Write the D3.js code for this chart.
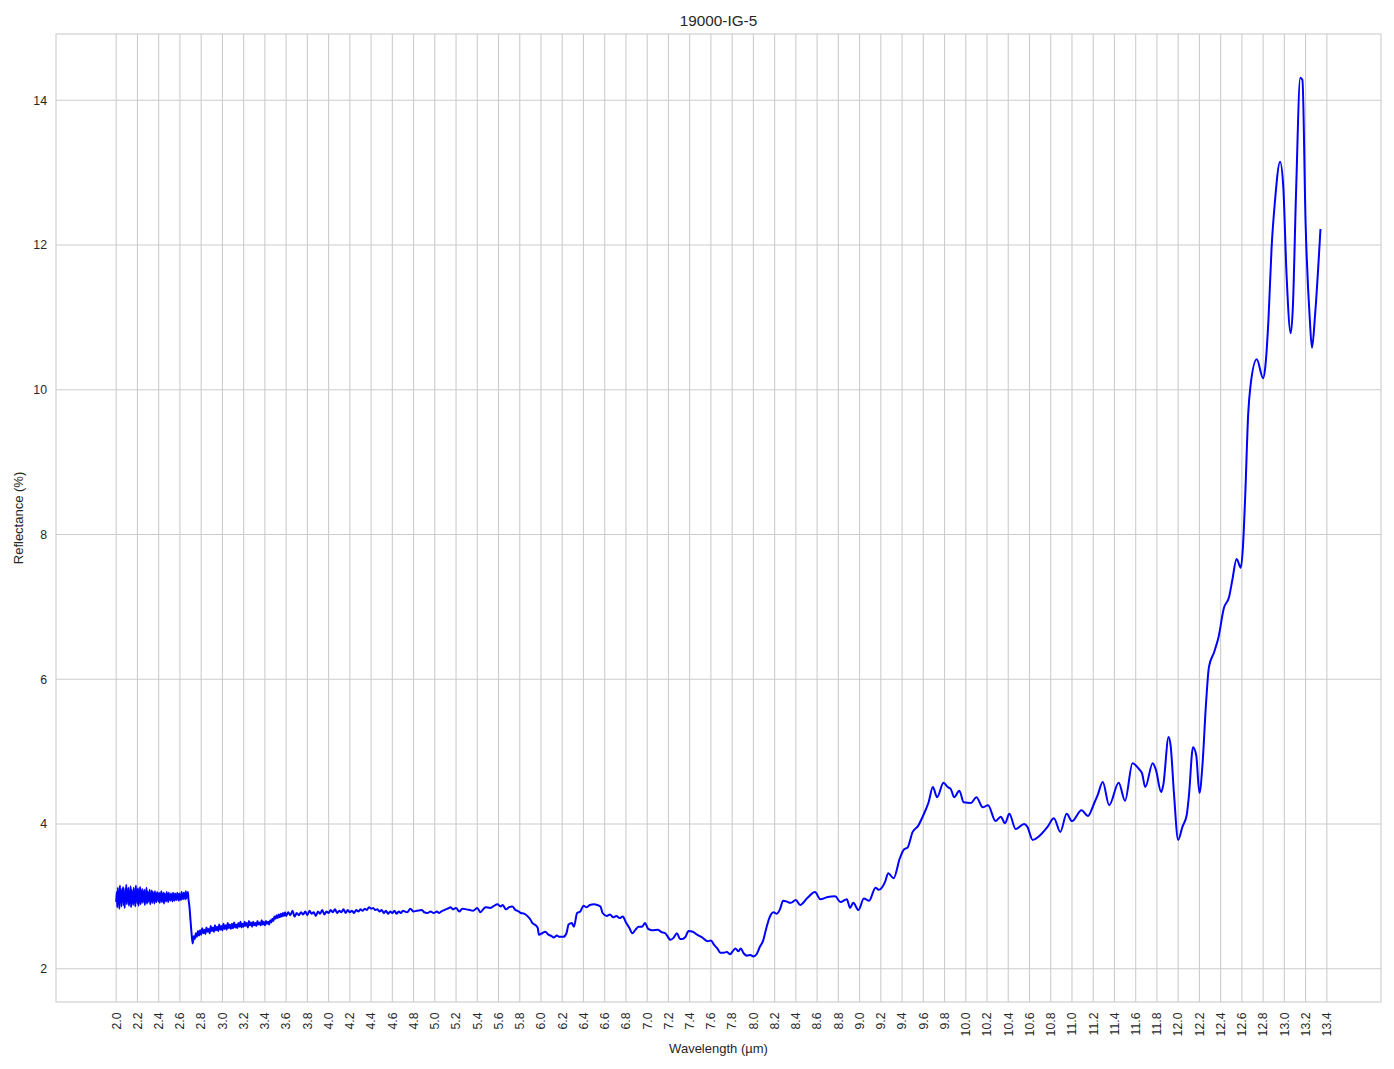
<!DOCTYPE html>
<html>
<head>
<meta charset="utf-8">
<script src="https://cdn.jsdelivr.net/npm/d3@7/dist/d3.min.js"></script>
<style>
  html, body { margin: 0; padding: 0; background: #fff; }
  svg { display: block; font-family: "Liberation Sans", Arial, sans-serif; }
</style>
</head>
<body>
<svg id="chart" width="1394" height="1069"></svg>
<script>
// ---------- DATA ----------
const title = "19000-IG-5";
const xLabel = "Wavelength (µm)";
const yLabel = "Reflectance (%)";

const xTickLabels = ["2.0","2.2","2.4","2.6","2.8","3.0","3.2","3.4","3.6","3.8",
  "4.0","4.2","4.4","4.6","4.8","5.0","5.2","5.4","5.6","5.8",
  "6.0","6.2","6.4","6.6","6.8","7.0","7.2","7.4","7.6","7.8",
  "8.0","8.2","8.4","8.6","8.8","9.0","9.2","9.4","9.6","9.8",
  "10.0","10.2","10.4","10.6","10.8","11.0","11.2","11.4","11.6","11.8",
  "12.0","12.2","12.4","12.6","12.8","13.0","13.2","13.4"];
const yTickValues = [2, 4, 6, 8, 10, 12, 14];

// Segment 1: noisy region, sampled every 0.005 µm from 2.000 to 2.680
const seg1Start = 2.00, seg1Step = 0.005;
const seg1Refl = [
  2.92, 3.06, 2.85, 3.12, 2.90, 3.03, 2.83, 3.15, 2.94, 3.08,
  2.86, 3.10, 2.97, 3.13, 2.88, 3.04, 2.84, 3.11, 2.93, 3.16,
  2.89, 3.07, 2.95, 3.12, 2.87, 3.05, 2.91, 3.14, 2.85, 3.09,
  2.96, 3.03, 2.88, 3.12, 2.92, 3.06, 2.86, 3.15, 2.94, 3.08,
  2.90, 3.11, 2.87, 3.05, 2.97, 3.13, 2.89, 3.07, 2.93, 3.10,
  2.91, 3.06, 2.95, 3.09, 2.88, 3.04, 2.94, 3.12, 2.90, 3.07,
  2.92, 3.05, 2.96, 3.09, 2.89, 3.03, 2.93, 3.08, 2.91, 3.06,
  2.95, 3.04, 2.90, 3.07, 2.94, 3.02, 2.92, 3.06, 2.96, 3.03,
  2.93, 3.05, 2.91, 3.04, 2.95, 3.07, 2.92, 3.03, 2.94, 3.05,
  2.90, 3.04, 2.96, 3.02, 2.93, 3.06, 2.95, 3.03, 2.92, 3.05,
  2.96, 3.02, 2.94, 3.04, 2.97, 3.01, 2.93, 3.05, 2.95, 3.03,
  2.94, 3.04, 2.96, 3.02, 2.95, 3.05, 2.97, 3.03, 2.94, 3.04,
  2.96, 3.02, 2.95, 3.06, 2.97, 3.03, 2.96, 3.05, 2.98, 3.04,
  2.96, 3.07, 2.97, 3.03, 2.99, 3.06, 2.97
];

// Segment 2: the drop and the noisy start of the plateau, every 0.01 µm from 2.69 to 3.59
const seg2Start = 2.69, seg2Step = 0.01;
const seg2Refl = [
  2.85, 2.66, 2.48, 2.35, 2.45, 2.41, 2.49, 2.44, 2.52, 2.46,
  2.53, 2.47, 2.56, 2.49, 2.54, 2.48, 2.57, 2.51, 2.55, 2.49,
  2.59, 2.52, 2.57, 2.51, 2.60, 2.53, 2.58, 2.52, 2.61, 2.54,
  2.59, 2.53, 2.62, 2.55, 2.60, 2.54, 2.63, 2.56, 2.61, 2.55,
  2.62, 2.56, 2.64, 2.57, 2.61, 2.56, 2.63, 2.58, 2.65, 2.57,
  2.62, 2.58, 2.65, 2.59, 2.63, 2.57, 2.66, 2.60, 2.64, 2.58,
  2.65, 2.60, 2.63, 2.59, 2.66, 2.61, 2.64, 2.60, 2.67, 2.61,
  2.65, 2.60, 2.66, 2.62, 2.65, 2.61, 2.67, 2.64, 2.69, 2.66,
  2.72, 2.69, 2.74, 2.70, 2.75, 2.71, 2.76, 2.72, 2.77, 2.73,
  2.78
];

// Segment 2b: plateau, every 0.02 µm from 3.60 to 4.70
const seg2bStart = 3.60, seg2bStep = 0.02;
const seg2bRefl = [
  2.73, 2.78, 2.74, 2.80, 2.72,
  2.77, 2.74, 2.78, 2.75, 2.79, 2.74, 2.80, 2.76, 2.78, 2.73,
  2.79, 2.76, 2.81, 2.75, 2.79, 2.77, 2.81, 2.78, 2.82, 2.77,
  2.80, 2.78, 2.82, 2.77, 2.81, 2.78, 2.80, 2.77, 2.81, 2.79,
  2.82, 2.80, 2.83, 2.81, 2.85, 2.83, 2.84, 2.81, 2.82, 2.79,
  2.81, 2.77, 2.80, 2.76, 2.79, 2.77, 2.80, 2.76, 2.79, 2.77,
  2.80
];

// Segment 3: smoother part, irregular samples
const seg3Wave = [
  4.74, 4.77, 4.80, 4.83, 4.88, 4.90, 4.93, 4.96, 4.99, 5.02,
  5.04, 5.07, 5.09, 5.12, 5.15, 5.17, 5.20, 5.23, 5.26, 5.30,
  5.33, 5.36, 5.40, 5.43, 5.46, 5.48, 5.52, 5.55, 5.59, 5.62,
  5.64, 5.67, 5.70, 5.73, 5.76, 5.78, 5.81, 5.84, 5.87, 5.90,
  5.92, 5.95, 5.97, 5.98, 6.01, 6.04, 6.07, 6.10, 6.12, 6.15,
  6.17, 6.21, 6.24, 6.26, 6.29, 6.31, 6.34, 6.37, 6.40, 6.43,
  6.46, 6.50, 6.53, 6.56, 6.58, 6.62, 6.65, 6.68, 6.71, 6.74,
  6.77, 6.80, 6.83, 6.86, 6.89, 6.92, 6.95, 6.98, 7.01, 7.05,
  7.10, 7.13, 7.17, 7.22, 7.25, 7.28, 7.31, 7.33, 7.36, 7.39,
  7.43, 7.47, 7.52, 7.57, 7.60, 7.63, 7.66, 7.69, 7.72, 7.75,
  7.78, 7.81, 7.83, 7.86, 7.88, 7.91, 7.94, 7.97, 8.00, 8.03,
  8.06, 8.09, 8.12, 8.15, 8.19, 8.22, 8.25, 8.28, 8.31, 8.35,
  8.40, 8.44, 8.51, 8.58, 8.63, 8.70, 8.77, 8.82, 8.88, 8.91,
  8.94, 8.99, 9.04, 9.09, 9.15, 9.18, 9.24, 9.27, 9.32, 9.38,
  9.42, 9.45, 9.50, 9.55, 9.60, 9.65, 9.69, 9.73, 9.79, 9.83,
  9.86, 9.89, 9.94, 9.98, 10.05, 10.10, 10.16, 10.21, 10.28, 10.33,
  10.37, 10.41, 10.47, 10.55, 10.58, 10.63, 10.69, 10.77, 10.83, 10.89,
  10.95, 11.00, 11.09, 11.15, 11.21, 11.24, 11.29, 11.35, 11.44, 11.50,
  11.57, 11.63, 11.66, 11.69, 11.76, 11.79, 11.84, 11.86, 11.91, 11.93,
  11.96, 12.00, 12.04, 12.08, 12.10, 12.14, 12.17, 12.20, 12.23, 12.26,
  12.29, 12.34, 12.38, 12.43, 12.48, 12.51, 12.55, 12.59, 12.61, 12.63,
  12.66, 12.68, 12.74, 12.80, 12.82, 12.85, 12.88, 12.91, 12.96, 12.99,
  13.02, 13.06, 13.08, 13.11, 13.15, 13.17, 13.20, 13.24, 13.26, 13.29,
  13.34
];
const seg3Refl = [
  2.78, 2.83, 2.79, 2.80, 2.81, 2.78, 2.77, 2.79, 2.77, 2.79,
  2.77, 2.80, 2.81, 2.83, 2.85, 2.82, 2.84, 2.79, 2.83, 2.82,
  2.81, 2.80, 2.84, 2.78, 2.83, 2.85, 2.84, 2.86, 2.89, 2.86,
  2.88, 2.82, 2.85, 2.86, 2.81, 2.80, 2.77, 2.76, 2.73, 2.68,
  2.63, 2.60, 2.56, 2.47, 2.49, 2.51, 2.47, 2.45, 2.43, 2.46,
  2.44, 2.44, 2.49, 2.61, 2.63, 2.58, 2.77, 2.79, 2.87, 2.85,
  2.88, 2.89, 2.88, 2.86, 2.77, 2.73, 2.75, 2.71, 2.73, 2.70,
  2.72, 2.64, 2.57, 2.49, 2.54, 2.58, 2.58, 2.63, 2.55, 2.53,
  2.54, 2.51, 2.49, 2.40, 2.43, 2.49, 2.41, 2.41, 2.44, 2.52,
  2.51, 2.47, 2.43, 2.38, 2.39, 2.33, 2.28, 2.22, 2.22, 2.23,
  2.20, 2.25, 2.28, 2.24, 2.28, 2.21, 2.18, 2.19, 2.17, 2.20,
  2.30, 2.38, 2.55, 2.70, 2.78, 2.76, 2.82, 2.94, 2.93, 2.91,
  2.95, 2.88, 2.98, 3.06, 2.96, 2.99, 3.00, 2.92, 2.96, 2.84,
  2.91, 2.81, 2.97, 2.94, 3.12, 3.09, 3.20, 3.32, 3.25, 3.53,
  3.65, 3.67, 3.89, 3.97, 4.12, 4.30, 4.51, 4.37, 4.57, 4.51,
  4.48, 4.37, 4.46, 4.30, 4.29, 4.37, 4.23, 4.26, 4.04, 4.10,
  4.01, 4.14, 3.93, 4.00, 3.96, 3.78, 3.83, 3.96, 4.08, 3.89,
  4.14, 4.04, 4.19, 4.11, 4.29, 4.39, 4.58, 4.26, 4.57, 4.32,
  4.84, 4.76, 4.70, 4.51, 4.84, 4.75, 4.44, 4.54, 5.20, 5.07,
  4.43, 3.78, 3.96, 4.12, 4.37, 5.06, 4.95, 4.43, 4.84, 5.61,
  6.17, 6.38, 6.58, 6.98, 7.14, 7.37, 7.66, 7.54, 7.83, 8.48,
  9.68, 10.04, 10.42, 10.16, 10.31, 10.96, 11.97, 12.58, 13.15, 12.80,
  11.61, 10.78, 11.14, 12.72, 14.31, 14.28, 12.30, 10.96, 10.58, 11.05,
  12.22
];

// ---------- BUILD ----------
const points = [];
seg1Refl.forEach((v, i) => points.push([seg1Start + i * seg1Step, v]));
seg2Refl.forEach((v, i) => points.push([seg2Start + i * seg2Step, v]));
seg2bRefl.forEach((v, i) => points.push([seg2bStart + i * seg2bStep, v]));
seg3Wave.forEach((w, i) => points.push([w, seg3Refl[i]]));

const svg = d3.select("#chart");
const W = 1394, H = 1069;
const margin = { left: 56, right: W - 1381, top: 34, bottom: H - 1002 };
const pw = W - margin.left - margin.right;
const ph = H - margin.top - margin.bottom;

const x = d3.scaleLinear().domain([1.433, 13.91]).range([margin.left, margin.left + pw]);
const y = d3.scaleLinear().domain([1.54, 14.915]).range([margin.top + ph, margin.top]);

const gridColor = "#cccccc";
const textColor = "#262626";

// Grid
const g = svg.append("g");
g.selectAll("line.vx").data(xTickLabels).join("line")
  .attr("x1", d => x(+d)).attr("x2", d => x(+d))
  .attr("y1", margin.top).attr("y2", margin.top + ph)
  .attr("stroke", gridColor).attr("stroke-width", 1.1);
g.selectAll("line.hy").data(yTickValues).join("line")
  .attr("x1", margin.left).attr("x2", margin.left + pw)
  .attr("y1", d => y(d)).attr("y2", d => y(d))
  .attr("stroke", gridColor).attr("stroke-width", 1.1);

// Frame
svg.append("rect")
  .attr("x", margin.left).attr("y", margin.top)
  .attr("width", pw).attr("height", ph)
  .attr("fill", "none").attr("stroke", gridColor).attr("stroke-width", 1.1);

// Line
const line = d3.line().x(d => x(d[0])).y(d => y(d[1])).curve(d3.curveMonotoneX);
svg.append("path").datum(points)
  .attr("d", line)
  .attr("fill", "none")
  .attr("stroke", "#0000ff")
  .attr("stroke-width", 2)
  .attr("stroke-linejoin", "round");

// X tick labels
svg.append("g").selectAll("text").data(xTickLabels).join("text")
  .attr("transform", d => `translate(${x(+d)},${margin.top + ph + 10.5}) rotate(-90)`)
  .attr("text-anchor", "end")
  .attr("dy", "0.35em")
  .attr("font-size", 12.3)
  .attr("fill", textColor)
  .text(d => d);

// Y tick labels
svg.append("g").selectAll("text").data(yTickValues).join("text")
  .attr("x", margin.left - 9)
  .attr("y", d => y(d))
  .attr("dy", "0.35em")
  .attr("text-anchor", "end")
  .attr("font-size", 12.3)
  .attr("fill", textColor)
  .text(d => d);

// Axis labels
svg.append("text")
  .attr("x", margin.left + pw / 2)
  .attr("y", 1053)
  .attr("text-anchor", "middle")
  .attr("font-size", 13)
  .attr("fill", textColor)
  .text(xLabel);

svg.append("text")
  .attr("transform", `translate(23,${margin.top + ph / 2}) rotate(-90)`)
  .attr("text-anchor", "middle")
  .attr("font-size", 13)
  .attr("fill", textColor)
  .text(yLabel);

// Title
svg.append("text")
  .attr("x", margin.left + pw / 2)
  .attr("y", 26)
  .attr("text-anchor", "middle")
  .attr("font-size", 15.3)
  .attr("fill", textColor)
  .text(title);
</script>
</body>
</html>
